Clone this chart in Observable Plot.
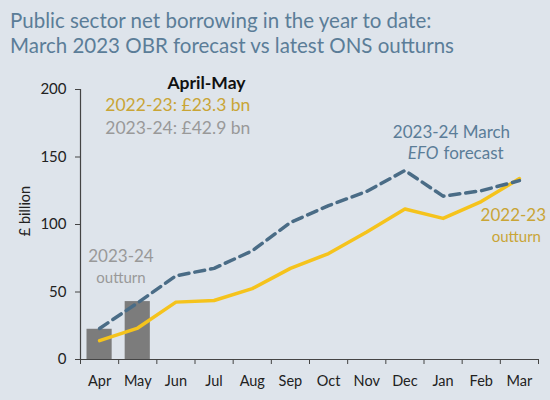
<!DOCTYPE html>
<html>
<head>
<meta charset="utf-8">
<script src="https://cdn.jsdelivr.net/npm/d3@7"></script>
<script src="https://cdn.jsdelivr.net/npm/@observablehq/plot@0.6"></script>
<style>
  html, body { margin: 0; padding: 0; background: #dee4eb; }
  body { width: 550px; height: 400px; overflow: hidden; font-family: Lato, "Open Sans", sans-serif; }
  #title { color: #5b7d98; font-size: 20.5px; line-height: 25px; padding: 8px 0 0 10px; height: 52px; box-sizing: border-box; }
  #title div { white-space: nowrap; }
</style>
</head>
<body>
<div id="title"><div>Public sector net borrowing in the year to date:</div><div>March 2023 OBR forecast vs latest ONS outturns</div></div>
<div id="chart"></div>
<script>
const months = ["Apr","May","Jun","Jul","Aug","Sep","Oct","Nov","Dec","Jan","Feb","Mar"];
const outturn2223 = [14, 23.3, 42.5, 43.7, 52.5, 67.5, 78.5, 94.5, 111.5, 104.5, 117, 134];
const forecast2324 = [23, 42, 62, 67.5, 80.5, 101.5, 114, 124.5, 140, 121, 125, 132.5];
const outturn2324 = [22.4, 42.9];
const yTicks = [0, 50, 100, 150, 200];

const lineData = months.map((m, i) => ({i, m, outturn: outturn2223[i], forecast: forecast2324[i]}));
const barData = outturn2324.map((v, i) => ({i, v}));

const ff = "Lato, 'Open Sans', sans-serif";
const gold = "#f5c31c";
const goldText = "#c9a536";
const blue = "#4a6c86";
const blueText = "#5b7d98";
const grey = "#7c7c7c";
const greyText = "#999999";

const chart = Plot.plot({
  width: 550,
  height: 348,
  marginTop: 37,
  marginBottom: 41,
  marginLeft: 80,
  marginRight: 12,
  style: {background: "transparent", fontFamily: ff, fontSize: "14px", color: "#222"},
  x: {type: "linear", domain: [0, 12]},
  y: {domain: [0, 200]},
  marks: [
    Plot.rectY(barData, {x1: d => d.i, x2: d => d.i + 1, y: "v", fill: grey, insetLeft: 6.5, insetRight: 6.5}),
    Plot.line(lineData, {x: d => d.i + 0.5, y: "outturn", stroke: gold, strokeWidth: 3.5}),
    Plot.line(lineData, {x: d => d.i + 0.5, y: "forecast", stroke: blue, strokeWidth: 3.5, strokeDasharray: "10,6"}),
    Plot.axisY({ticks: yTicks, tickSize: 5, tickPadding: 9, label: null, fontSize: 15, stroke: "#444", color: "#222"}),
    Plot.ruleX([0], {stroke: "#444", strokeWidth: 1.2}),
    Plot.ruleY([0], {stroke: "#444", strokeWidth: 1.2}),
    Plot.axisX({ticks: d3.range(13), tickSize: 5, tickFormat: () => "", label: null, stroke: "#444"}),
    Plot.axisX({ticks: d3.range(12).map(i => i + 0.5), tickSize: 0, tickPadding: 16, tickFormat: d => months[Math.floor(d)], label: null, fontSize: 14.5, color: "#222"}),
    Plot.text(["£ billion"], {frameAnchor: "left", y: 110, dx: -55, rotate: -90, textAnchor: "middle", fontSize: 14.5, fill: "#222"}),
    Plot.text(["April-May"], {x: 3.3, y: 200, dy: -6, fontWeight: "bold", fontSize: 17.5, fill: "#111"}),
    Plot.text(["2022-23: £23.3 bn"], {x: 0.65, y: 200, dy: 16, textAnchor: "start", fontSize: 17.5, fill: goldText}),
    Plot.text(["2023-24: £42.9 bn"], {x: 0.65, y: 200, dy: 39, textAnchor: "start", fontSize: 17.5, fill: greyText}),
    Plot.text(["2023-24"], {x: 1.06, y: 76, fontSize: 17, fill: greyText}),
    Plot.text(["outturn"], {x: 1.06, y: 76, dy: 21, fontSize: 15, fill: greyText}),
    Plot.text(["2023-24 March"], {x: 9.72, y: 168, fontSize: 17, fill: blueText}),
    Plot.text(["EFO"], {x: 9.72, y: 168, dx: -13, dy: 20.5, textAnchor: "end", fontSize: 17, fill: blueText, fontStyle: "italic"}),
    Plot.text(["forecast"], {x: 9.72, y: 168, dx: -8, dy: 20.5, textAnchor: "start", fontSize: 17, fill: blueText}),
    Plot.text(["2022-23"], {x: 11.34, y: 107, fontSize: 17, fill: goldText}),
    Plot.text(["outturn"], {x: 11.34, y: 107, dx: 3, dy: 22, fontSize: 15, fill: goldText})
  ]
});
document.getElementById("chart").appendChild(chart);
</script>
</body>
</html>
